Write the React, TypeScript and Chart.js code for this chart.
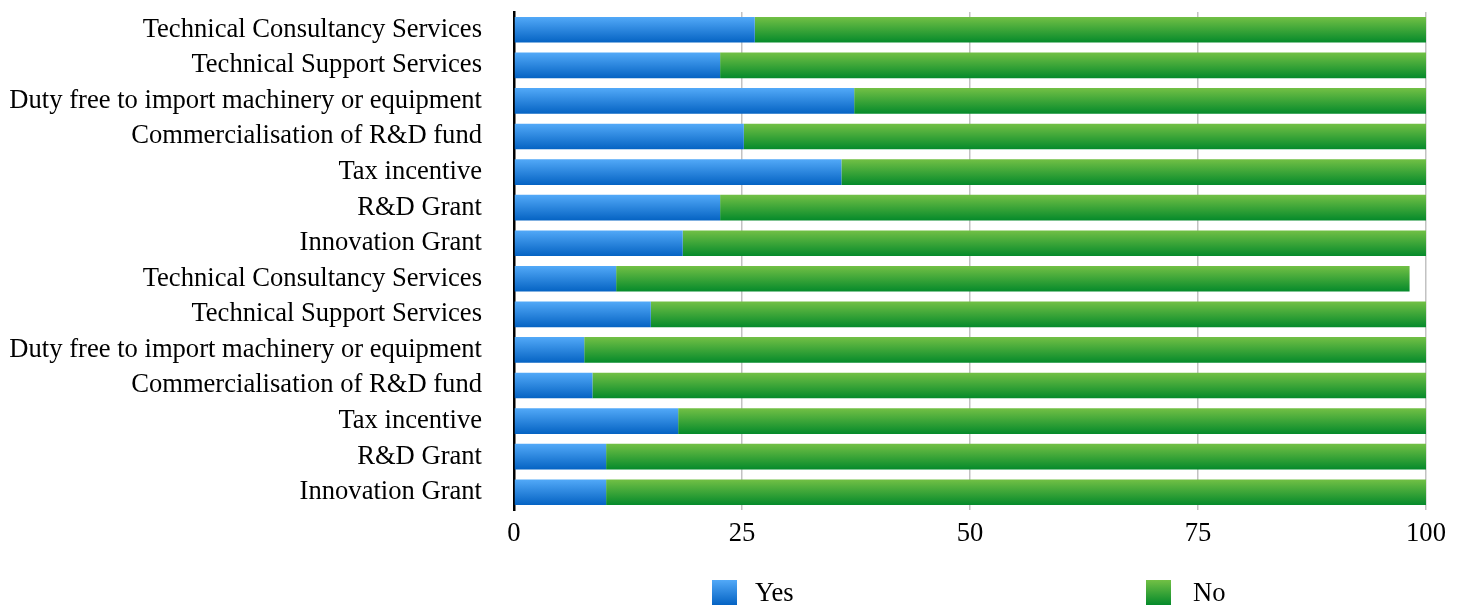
import React, { useEffect, useRef } from 'react';
import { Chart, registerables } from 'chart.js';

Chart.register(...registerables);

const categories = [
  'Technical Consultancy Services',
  'Technical Support Services',
  'Duty free to import machinery or equipment',
  'Commercialisation of R&D fund',
  'Tax incentive',
  'R&D Grant',
  'Innovation Grant',
  'Technical Consultancy Services',
  'Technical Support Services',
  'Duty free to import machinery or equipment',
  'Commercialisation of R&D fund',
  'Tax incentive',
  'R&D Grant',
  'Innovation Grant',
];
const yesValues = [26.4, 22.6, 37.3, 25.2, 35.9, 22.6, 18.5, 11.2, 15.0, 7.7, 8.6, 18.0, 10.1, 10.1];
const noValues = [73.6, 77.4, 62.7, 74.8, 64.1, 77.4, 81.5, 87.0, 85.0, 92.3, 91.4, 82.0, 89.9, 89.9];
const xTicks = [0, 25, 50, 75, 100];
const seriesNames = ['Yes', 'No'];

const FONT = "'Liberation Serif', 'Times New Roman', serif";
const BAR_PCT = 0.72;
const BLUE_TOP = '#52a9f8';
const BLUE_BOTTOM = '#0563c3';
const GREEN_TOP = '#72c045';
const GREEN_BOTTOM = '#058a2b';

function barGradient(top: string, bottom: string) {
  return (context: any) => {
    const chart = context.chart;
    const yScale = chart.scales && chart.scales.y;
    if (!yScale || context.dataIndex === undefined || !chart.ctx) return bottom;
    const center = yScale.getPixelForValue(context.dataIndex);
    const band = yScale.height / categories.length;
    const half = (band * BAR_PCT) / 2;
    if (!isFinite(center)) return bottom;
    const g = chart.ctx.createLinearGradient(0, center - half, 0, center + half);
    g.addColorStop(0, top);
    g.addColorStop(1, bottom);
    return g;
  };
}

function LegendItem({ left, label, top, bottom, textLeft }: any) {
  return (
    <>
      <div
        style={{
          position: 'absolute',
          left,
          top: 580,
          width: 25,
          height: 25,
          background: `linear-gradient(to bottom, ${top}, ${bottom})`,
        }}
      />
      <div
        style={{
          position: 'absolute',
          left: textLeft,
          top: 576,
          height: 32,
          lineHeight: '32px',
          fontFamily: FONT,
          fontSize: '26.6px',
          color: '#000',
          whiteSpace: 'nowrap',
        }}
      >
        {label}
      </div>
    </>
  );
}

export default function App() {
  const canvasRef = useRef<HTMLCanvasElement | null>(null);

  useEffect(() => {
    document.body.style.margin = '0';
    const canvas = canvasRef.current;
    if (!canvas) return;
    const chart = new Chart(canvas, {
      type: 'bar',
      data: {
        labels: categories,
        datasets: [
          {
            label: seriesNames[0],
            data: yesValues,
            backgroundColor: barGradient(BLUE_TOP, BLUE_BOTTOM),
            borderWidth: 0,
            barPercentage: BAR_PCT,
            categoryPercentage: 1,
          },
          {
            label: seriesNames[1],
            data: noValues,
            backgroundColor: barGradient(GREEN_TOP, GREEN_BOTTOM),
            borderWidth: 0,
            barPercentage: BAR_PCT,
            categoryPercentage: 1,
          },
        ],
      },
      options: {
        indexAxis: 'y',
        responsive: false,
        maintainAspectRatio: false,
        animation: false,
        layout: { padding: { top: 12, right: 39, bottom: 0, left: 0 } },
        plugins: {
          legend: { display: false },
          tooltip: { enabled: false },
        },
        scales: {
          x: {
            stacked: true,
            min: 0,
            max: 100,
            afterBuildTicks: (scale: any) => {
              scale.ticks = xTicks.map((v) => ({ value: v }));
            },
            afterFit: (scale: any) => {
              scale.height = 100;
            },
            grid: {
              color: '#c2c2c2',
              lineWidth: 1.5,
              drawTicks: false,
            },
            border: { display: false },
            ticks: {
              padding: 8,
              color: '#000',
              font: { family: FONT, size: 26.6 },
              maxRotation: 0,
            },
          },
          y: {
            stacked: true,
            afterFit: (scale: any) => {
              scale.width = 514;
              scale.paddingTop = 0;
              scale.paddingBottom = 0;
            },
            grid: { display: false, drawTicks: false },
            border: { display: true, color: '#000', width: 2.5 },
            ticks: {
              autoSkip: false,
              padding: 32,
              color: '#000',
              font: { family: FONT, size: 26.6 },
            },
          },
        },
      },
    } as any);
    return () => chart.destroy();
  }, []);

  return (
    <div style={{ position: 'fixed', left: 0, top: 0, width: 1465, height: 610, background: '#fff' }}>
      <canvas ref={canvasRef} width={1465} height={610} style={{ display: 'block', width: 1465, height: 610 }} />
      <LegendItem left={712} textLeft={755} label={seriesNames[0]} top={BLUE_TOP} bottom={BLUE_BOTTOM} />
      <LegendItem left={1146} textLeft={1193} label={seriesNames[1]} top={GREEN_TOP} bottom={GREEN_BOTTOM} />
    </div>
  );
}
